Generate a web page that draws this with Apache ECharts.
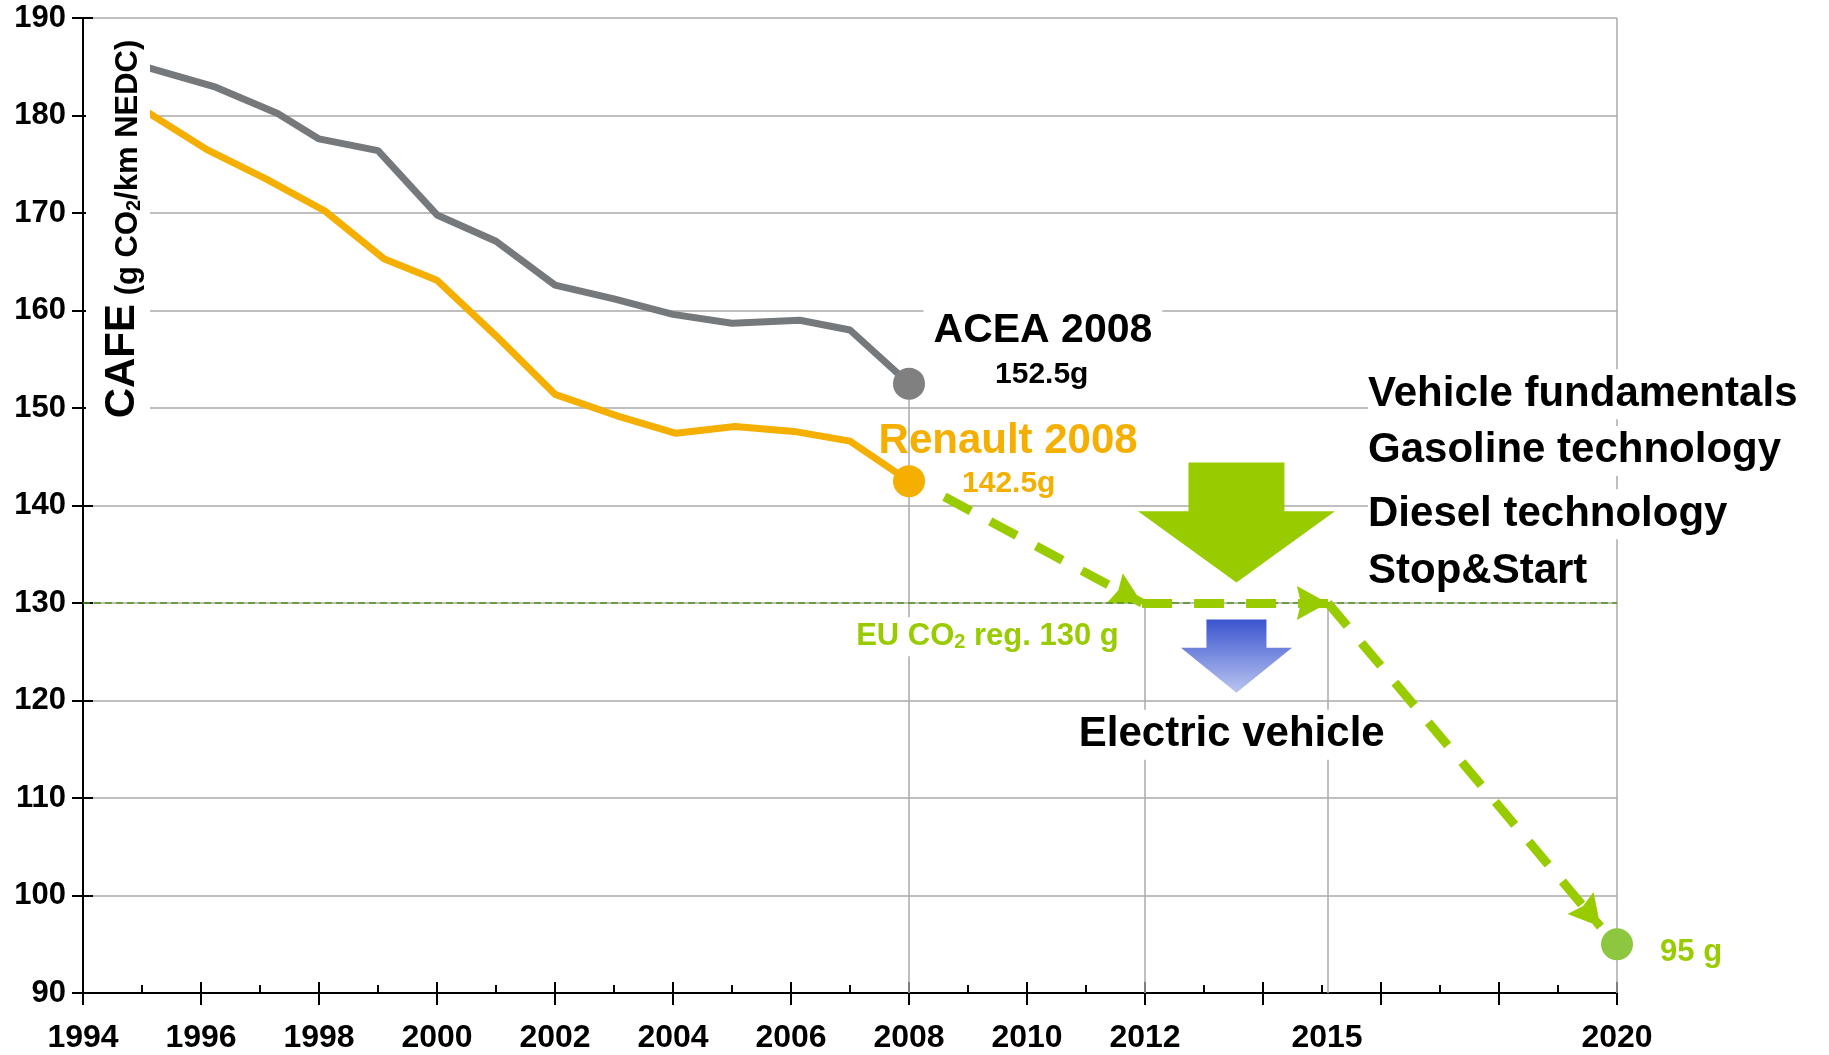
<!DOCTYPE html>
<html>
<head>
<meta charset="utf-8">
<title>CAFE CO2 trajectory</title>
<script src="https://cdn.jsdelivr.net/npm/echarts@6/dist/echarts.min.js"></script>
<style>
    html, body { margin: 0; padding: 0; background: #fff; }
    #main { width: 1829px; height: 1055px; }
</style>
</head>
<body>
<div id="main"></div>
<script>
var FONT = '"Liberation Sans", Arial, sans-serif';
var GREEN = '#99CC00';
var GRID = '#AAAAAA';

// ACEA fleet average (g CO2/km)
var aceaYears = [1995.1, 1996.25, 1997.3, 1998, 1999, 2000, 2001, 2002, 2003, 2004, 2005, 2006.15, 2007, 2008];
var aceaValues = [184.9, 182.9, 180.2, 177.6, 176.4, 169.8, 167.1, 162.6, 161.2, 159.6, 158.7, 159.0, 158.0, 152.5];

// Renault fleet average
var renaultYears = [1995.1, 1996.1, 1997.1, 1998.1, 1999.1, 2000, 2001, 2002, 2003.05, 2004.05, 2005.05, 2006.05, 2007, 2008];
var renaultValues = [180.3, 176.5, 173.5, 170.2, 165.3, 163.1, 157.4, 151.4, 149.2, 147.4, 148.1, 147.6, 146.6, 142.5];

// end points
var aceaEnd = [2008, 152.5];
var renaultEnd = [2008, 142.5];
var target2020 = [2020, 95];

// planned path towards the targets
var pathYears = [2008.6, 2011.95, 2015.1, 2019.72];
var pathValues = [140.9, 130, 130, 96.8];
var euLimit = 130;

// vertical drop lines
var dropYears = [2008, 2012, 2015.1, 2020];
var dropTops = [152.5, 130, 130, 190];

// x axis labels that are shown
var xLabelYears = [1994, 1996, 1998, 2000, 2002, 2004, 2006, 2008, 2010, 2012, 2015, 2020];

var techLines = ['Vehicle fundamentals', 'Gasoline technology', 'Diesel technology', 'Stop&Start'];

function zip(xs, ys) {
    return xs.map(function (x, i) { return [x, ys[i]]; });
}

var pathPoints = zip(pathYears, pathValues);
var pathSegments = [];
for (var i = 0; i < pathPoints.length - 1; i++) {
    pathSegments.push([{coord: pathPoints[i]}, {coord: pathPoints[i + 1]}]);
}
var dropSegments = dropYears.map(function (y, i) {
    return [{coord: [y, dropTops[i]]}, {coord: [y, 90]}];
});

// block arrows (green: technologies, blue: electric vehicle)
var blockArrows = [
    {x: 2013.55, top: 144.4, neck: 139.4, tip: 132.1, shaft: 96, head: 197,
        fill: GREEN},
    {x: 2013.55, top: 128.3, neck: 125.4, tip: 120.8, shaft: 60, head: 111,
        fill: new echarts.graphic.LinearGradient(0, 0, 0, 1, [
            {offset: 0, color: '#3B54CF'},
            {offset: 1, color: '#BAC5F0'}
        ])}
];

function xAxisBase(interval) {
    return {
        type: 'value', min: 1994, max: 2020, interval: interval, position: 'bottom',
        axisLine: {show: false, onZero: false},
        axisLabel: {show: false},
        splitLine: {show: false}
    };
}

var chart = echarts.init(document.getElementById('main'));

var xMain = xAxisBase(1);
xMain.axisLine = {show: true, onZero: false, lineStyle: {color: '#000', width: 2}};
xMain.axisTick = {show: true, inside: true, length: 8, lineStyle: {color: '#000', width: 2}};
xMain.axisLabel = {
    show: true, color: '#000', fontSize: 32, fontWeight: 'bold', fontFamily: FONT, margin: 29,
    hideOverlap: false, showMinLabel: true, showMaxLabel: true,
    rich: {shift: {fontSize: 32, fontWeight: 'bold', fontFamily: FONT, color: '#000', padding: [0, 0, 0, 10]}},
    formatter: function (v) {
        var y = Math.round(v);
        if (xLabelYears.indexOf(y) < 0) return '';
        return y === 2015 ? '{shift|2015}' : String(y);
    }
};
var xMajorIn = xAxisBase(2);
xMajorIn.axisTick = {show: true, inside: true, length: 11, lineStyle: {color: '#000', width: 2}};
var xMajorOut = xAxisBase(2);
xMajorOut.axisTick = {show: true, inside: false, length: 12, lineStyle: {color: '#000', width: 2}};

var option = {
    animation: false,
    backgroundColor: '#fff',
    grid: {
        left: 83, right: 212, top: 18, bottom: 62,
        containLabel: false, outerBoundsMode: 'none'
    },
    xAxis: [xMain, xMajorIn, xMajorOut],
    yAxis: [
        {
            type: 'value', min: 90, max: 190, interval: 10, position: 'left',
            axisLine: {show: true, onZero: false, lineStyle: {color: '#000', width: 2}},
            axisTick: {show: true, inside: false, length: 11, lineStyle: {color: '#000', width: 2}},
            axisLabel: {color: '#000', fontSize: 31, fontWeight: 'bold', fontFamily: FONT, margin: 17},
            splitLine: {show: true, lineStyle: {color: GRID, width: 1.5}}
        },
        {
            type: 'value', min: 90, max: 190, interval: 10, position: 'left',
            axisLine: {show: false, onZero: false},
            axisTick: {show: true, inside: true, length: 10, lineStyle: {color: '#000', width: 2}},
            axisLabel: {show: false},
            splitLine: {show: false}
        }
    ],
    series: [
        {
            name: 'drop lines', type: 'line', data: [], silent: true, z: 1,
            markLine: {
                silent: true, symbol: ['none', 'none'], label: {show: false},
                lineStyle: {color: GRID, width: 1.5, type: 'solid'},
                data: dropSegments
            }
        },
        {
            name: 'EU limit', type: 'line', data: [], silent: true, z: 2,
            markLine: {
                silent: true, symbol: ['none', 'none'], label: {show: false},
                lineStyle: {color: '#4F9414', width: 1.6, type: [7, 4]},
                data: [{yAxis: euLimit}]
            }
        },
        {
            name: 'ACEA', type: 'line', data: zip(aceaYears, aceaValues),
            symbol: 'none', z: 3,
            lineStyle: {color: '#76797C', width: 7}
        },
        {
            name: 'Renault', type: 'line', data: zip(renaultYears, renaultValues),
            symbol: 'none', z: 3,
            lineStyle: {color: '#F5AF00', width: 7}
        },
        {
            name: 'path', type: 'line', data: [], silent: true, z: 4,
            markLine: {
                silent: true, symbol: ['none', 'none'], label: {show: false},
                lineStyle: {color: GREEN, width: 9, type: [30, 22], opacity: 1},
                data: pathSegments
            }
        },
        {
            // arrow heads at the end of each path segment
            name: 'path heads', type: 'custom', z: 4, silent: true, clip: false,
            data: pathPoints.slice(1),
            renderItem: function (params, api) {
                var from = api.coord(pathPoints[params.dataIndex]);
                var to = api.coord(pathPoints[params.dataIndex + 1]);
                var dx = to[0] - from[0], dy = to[1] - from[1];
                var len = Math.sqrt(dx * dx + dy * dy);
                var ux = dx / len, uy = dy / len;
                var L = 31, W = 17, N = 4;
                var bx = to[0] - ux * L, by = to[1] - uy * L;
                return {
                    type: 'polygon',
                    shape: {points: [
                        [to[0], to[1]],
                        [bx - uy * W, by + ux * W],
                        [bx + ux * N, by + uy * N],
                        [bx + uy * W, by - ux * W]
                    ]},
                    style: {fill: GREEN}
                };
            }
        },
        {
            name: 'end points', type: 'scatter', symbolSize: 32, z: 5,
            itemStyle: {opacity: 1},
            data: [
                {value: aceaEnd, itemStyle: {color: '#808080', opacity: 1}},
                {value: renaultEnd, itemStyle: {color: '#F5AF00', opacity: 1}},
                {value: target2020, itemStyle: {color: '#8DC63F', opacity: 1}}
            ]
        },
        {
            name: 'arrows', type: 'custom', z: 6, silent: true, clip: false,
            data: blockArrows.map(function (a) { return [a.x, a.top]; }),
            renderItem: function (params, api) {
                var a = blockArrows[params.dataIndex];
                var top = api.coord([a.x, a.top]);
                var neck = api.coord([a.x, a.neck]);
                var tip = api.coord([a.x, a.tip]);
                var hs = a.shaft / 2, hh = a.head / 2, cx = top[0];
                return {
                    type: 'polygon',
                    shape: {points: [
                        [cx - hs, top[1]], [cx + hs, top[1]], [cx + hs, neck[1]], [cx + hh, neck[1]],
                        [tip[0], tip[1]], [cx - hh, neck[1]], [cx - hs, neck[1]]
                    ]},
                    style: {fill: a.fill}
                };
            }
        }
    ]
};
chart.setOption(option);

// text annotations, anchored in data space
function px(x, y) {
    return chart.convertToPixel({xAxisIndex: 0, yAxisIndex: 0}, [x, y]);
}

function note(text, at, size, color, align, bg, rich) {
    var p = px(at[0], at[1]);
    var style = {
        text: text, fill: color, align: align, verticalAlign: 'middle',
        fontSize: size, fontWeight: 'bold', fontFamily: FONT
    };
    if (bg) {
        style.backgroundColor = '#fff';
        style.padding = align === 'left' ? [4, 10, 4, 0] : [4, 10];
    }
    if (rich) {
        style.rich = rich;
    }
    return {type: 'text', x: p[0], y: p[1], z: 100, silent: true, style: style};
}

var euRich = {
    m: {fontSize: 31, fontWeight: 'bold', fontFamily: FONT, color: GREEN, lineHeight: 31, verticalAlign: 'top'},
    s: {fontSize: 20, fontWeight: 'bold', fontFamily: FONT, color: GREEN, lineHeight: 6, verticalAlign: 'bottom'}
};

var graphics = [
    note('ACEA 2008', [2010.27, 157.9], 41, '#000', 'center', true),
    note('152.5g', [2010.25, 153.45], 30, '#000', 'center', false),
    note('Renault 2008', [2009.68, 146.6], 42, '#F5AF00', 'center', false),
    note('142.5g', [2009.69, 142.2], 30, '#F5AF00', 'center', false),
    note('{m|EU CO}{s|2}{m| reg. 130 g}', [2009.33, 126.55], 31, GREEN, 'center', true, euRich),
    note('Electric vehicle', [2013.47, 116.5], 42, '#000', 'center', true),
    note('95 g', [2020.73, 94.2], 31, GREEN, 'left', false)
];
var techValues = [151.4, 145.6, 139.1, 133.25];
techLines.forEach(function (t, i) {
    graphics.push(note(t, [2015.78, techValues[i]], 42, '#000', 'left', true));
});

// y axis title
graphics.push({
    type: 'text', x: 118, y: 229, rotation: Math.PI / 2, z: 100, silent: true,
    style: {
        text: '{big|CAFE}{mid| (g CO}{sub|2}{mid|/km NEDC)}',
        align: 'center', verticalAlign: 'middle',
        backgroundColor: '#fff', padding: [14, 8, 6, 8],
        rich: {
            big: {fontSize: 42, fontWeight: 'bold', fontFamily: FONT, color: '#000', lineHeight: 44, verticalAlign: 'middle'},
            mid: {fontSize: 31, fontWeight: 'bold', fontFamily: FONT, color: '#000', lineHeight: 38, verticalAlign: 'bottom'},
            sub: {fontSize: 20, fontWeight: 'bold', fontFamily: FONT, color: '#000', lineHeight: 14, verticalAlign: 'bottom'}
        }
    }
});

chart.setOption({graphic: graphics});
</script>
</body>
</html>
